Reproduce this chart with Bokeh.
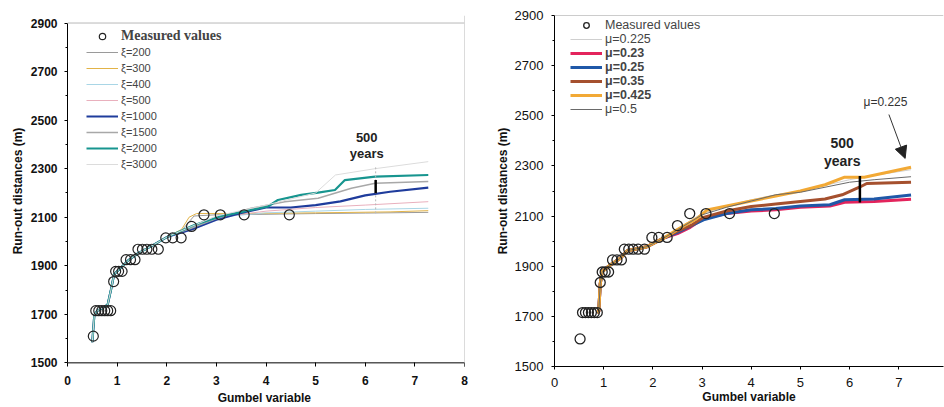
from bokeh.plotting import figure
from bokeh.layouts import row
from bokeh.models import Legend, LegendItem, Label, Arrow, NormalHead, FixedTicker, Span
from bokeh.embed import file_html
from bokeh.resources import INLINE

# ---------------- data ----------------
meas_x = [0.52, 0.57, 0.63, 0.69, 0.75, 0.81, 0.87, 0.93, 0.97, 1.03, 1.10,
          1.18, 1.27, 1.36, 1.42, 1.51, 1.60, 1.70, 1.83, 1.98, 2.12, 2.29,
          2.50, 2.75, 3.08, 3.56, 4.47]
meas_y = [1610, 1715, 1715, 1715, 1715, 1715, 1715, 1835, 1877, 1877, 1877,
          1925, 1925, 1925, 1968, 1968, 1968, 1968, 1968, 2015, 2015, 2015,
          2062, 2110, 2110, 2110, 2110]

gumbel_500 = 6.21

# left chart (xi series) - common start
lb_x = [0.50, 0.54, 0.60, 0.70, 0.81, 0.875, 0.94, 1.04, 1.21, 1.41, 1.68, 2.02]
lb_y = [1585, 1695, 1715, 1725, 1740, 1800, 1865, 1885, 1920, 1950, 1980, 2020]

left_labels = ["ξ=200", "ξ=300", "ξ=400", "ξ=500", "ξ=1000", "ξ=1500", "ξ=2000", "ξ=3000"]
left_tail_x = [
    [2.30, 2.55, 3.00, 4.00, 5.00, 6.00, 7.27],
    [2.30, 2.45, 2.60, 3.50, 5.00, 6.50, 7.27],
    [2.50, 3.00, 4.00, 5.00, 6.00, 7.27],
    [2.50, 3.00, 3.50, 4.00, 5.00, 6.00, 7.27],
    [2.50, 3.00, 3.50, 4.00, 4.50, 5.00, 5.50, 6.00, 6.50, 7.27],
    [2.50, 3.00, 3.70, 4.38, 5.05, 5.72, 6.20, 7.27],
    [2.56, 3.10, 3.37, 4.04, 4.24, 4.71, 5.05, 5.39, 5.59, 6.20, 7.27],
    [2.50, 3.00, 4.00, 5.00, 5.40, 6.20, 7.27],
]
left_tail_y = [
    [2045, 2105, 2110, 2112, 2115, 2117, 2120],
    [2050, 2100, 2115, 2115, 2118, 2122, 2127],
    [2065, 2100, 2118, 2125, 2132, 2137],
    [2060, 2098, 2112, 2125, 2140, 2150, 2164],
    [2050, 2090, 2118, 2140, 2140, 2150, 2165, 2190, 2205, 2222],
    [2055, 2095, 2137, 2164, 2178, 2219, 2240, 2247],
    [2068, 2105, 2116, 2144, 2171, 2192, 2201, 2212, 2253, 2267, 2274],
    [2062, 2105, 2150, 2200, 2274, 2300, 2329],
]
left_colors = ["#9a9a9a", "#e2b347", "#a9d6e6", "#e9b0bd", "#1f3c9c", "#a8a8a8", "#17958f", "#dcdcdc"]
left_widths = [1, 1, 1, 1, 2.2, 1.5, 2.2, 1]

# right chart (mu series) - common start
rb_x = [0.87, 0.90, 0.93, 0.97, 1.14, 1.34, 1.48, 1.88, 2.22]
rb_y = [1713, 1720, 1830, 1879, 1906, 1932, 1962, 1978, 2012]

right_labels = ["μ=0.225", "μ=0.23", "μ=0.25", "μ=0.35", "μ=0.425", "μ=0.5"]
right_tail_x = [
    [2.50, 3.00, 3.50, 4.00, 4.50, 5.00, 5.50, 6.00, 6.50, 7.25],
    [2.50, 2.76, 3.03, 3.50, 4.00, 4.50, 5.00, 5.60, 5.90, 6.50, 7.25],
    [2.50, 2.76, 3.03, 3.50, 4.00, 4.50, 5.00, 5.60, 5.90, 6.50, 7.25],
    [2.50, 2.80, 3.03, 3.50, 4.00, 4.50, 5.00, 5.50, 5.85, 6.20, 6.35, 7.25],
    [2.49, 2.90, 3.10, 3.50, 4.00, 4.50, 5.00, 5.50, 5.90, 6.30, 7.25],
    [2.50, 3.00, 3.50, 4.00, 4.50, 5.00, 5.50, 6.00, 6.50, 7.25],
]
right_tail_y = [
    [2050, 2110, 2140, 2165, 2185, 2200, 2222, 2245, 2262, 2285],
    [2030, 2055, 2090, 2110, 2120, 2125, 2135, 2140, 2155, 2158, 2167],
    [2035, 2060, 2085, 2110, 2125, 2130, 2140, 2145, 2165, 2168, 2184],
    [2040, 2065, 2095, 2120, 2138, 2148, 2158, 2168, 2185, 2215, 2230, 2235],
    [2045, 2091, 2124, 2140, 2160, 2180, 2200, 2225, 2255, 2255, 2295],
    [2045, 2105, 2135, 2160, 2185, 2195, 2215, 2235, 2245, 2257],
]
right_colors = ["#cfcfcf", "#e3245c", "#1f58a8", "#a5502e", "#f2a935", "#6a6a6a"]
right_widths = [1, 3, 3, 3, 3, 1]

y_ticks = [1500, 1700, 1900, 2100, 2300, 2500, 2700, 2900]
y_minor = [1600, 1800, 2000, 2200, 2400, 2600, 2800]

SANS = "Liberation Sans"


def style_axes(p, x_ticks, tick_standoff_x, title_standoff_x, tick_standoff_y, title_standoff_y, xtitle):
    p.xaxis.ticker = FixedTicker(ticks=x_ticks)
    p.yaxis.ticker = FixedTicker(ticks=y_ticks, minor_ticks=y_minor)
    for ax in (p.xaxis[0], p.yaxis[0]):
        ax.axis_line_color = "black"
        ax.axis_line_width = 1
        ax.major_tick_out = 3
        ax.major_tick_in = 0
        ax.minor_tick_out = 2
        ax.minor_tick_in = 0
        ax.major_label_text_font = SANS
        ax.major_label_text_font_style = "bold"
        ax.major_label_text_font_size = "12px"
        ax.major_label_text_color = "#111111"
        ax.axis_label_text_font = SANS
        ax.axis_label_text_font_style = "bold"
        ax.axis_label_text_font_size = "12px"
        ax.axis_label_text_color = "#111111"
    p.xaxis.major_label_standoff = tick_standoff_x
    p.xaxis.axis_label_standoff = title_standoff_x
    p.yaxis.major_label_standoff = tick_standoff_y
    p.yaxis.axis_label_standoff = title_standoff_y
    p.xaxis.axis_label = xtitle
    p.yaxis.axis_label = "Run-out distances (m)"
    p.xgrid.visible = False
    p.ygrid.visible = False


# ---------------- left figure ----------------
pl = figure(width=470, height=407, x_range=(0, 8), y_range=(1485, 2931),
            output_backend="svg", toolbar_location=None,
            min_border_left=67, min_border_right=6, min_border_top=15, min_border_bottom=40)
pl.outline_line_color = None
style_axes(pl, [0, 1, 2, 3, 4, 5, 6, 7, 8], 9, 3, 7, 3, "Gumbel  variable")
# x axis line drawn at y=1500 (the frame extends a little below it)
pl.xaxis.axis_line_color = None
pl.xaxis.major_tick_out = 0
pl.xaxis.major_tick_in = 4
pl.xaxis.minor_tick_out = 0
pl.xaxis.minor_tick_in = 0
pl.yaxis.bounds = (1500, 2900)
pl.add_layout(Span(location=1500, dimension="width", line_color="black", line_width=1))
pl.add_layout(Span(location=2900, dimension="width", line_color="#b8b8b8", line_width=1))
pl.add_layout(Span(location=8, dimension="height", line_color="#b8b8b8", line_width=1))

l_items = []
for lab, tx, ty, c, w in zip(left_labels, left_tail_x, left_tail_y, left_colors, left_widths):
    r = pl.line(lb_x + tx, lb_y + ty, line_color=c, line_width=w)
    l_items.append(LegendItem(label=lab, renderers=[r]))

pl.segment(x0=[gumbel_500], y0=[2116], x1=[gumbel_500], y1=[2308], line_color="#b8b8b8", line_width=1, line_dash="2 2")
pl.segment(x0=[gumbel_500], y0=[2199], x1=[gumbel_500], y1=[2253], line_color="black", line_width=2.5)

rm = pl.scatter(meas_x, meas_y, marker="circle", size=10, fill_color=None,
                line_color="#222222", line_width=1.2)

pl.add_layout(Label(x=6.03, y=2430, text="500", text_align="center", text_baseline="middle",
                    text_font=SANS, text_font_style="bold", text_font_size="13px", text_color="#222222"))
pl.add_layout(Label(x=6.03, y=2362, text="years", text_align="center", text_baseline="middle",
                    text_font=SANS, text_font_style="bold", text_font_size="13px", text_color="#222222"))

leg1 = Legend(items=[LegendItem(label="Measured values", renderers=[rm])], location=(19, 322),
              label_text_font="Liberation Serif", label_text_font_style="bold", label_text_font_size="14px",
              glyph_width=32, glyph_height=16, label_height=16, spacing=0, padding=0, margin=0,
              label_standoff=3, border_line_color=None, background_fill_alpha=0)
leg2 = Legend(items=l_items, location=(19, 194),
              label_text_font=SANS, label_text_font_size="11px",
              glyph_width=32, glyph_height=16, label_height=16, spacing=0, padding=0, margin=0,
              label_standoff=3, border_line_color=None, background_fill_alpha=0)
pl.add_layout(leg1)
pl.add_layout(leg2)

# ---------------- right figure ----------------
pr = figure(width=474, height=407, x_range=(0, 7.91), y_range=(1500, 2900),
            output_backend="svg", toolbar_location=None,
            min_border_left=84, min_border_right=1, min_border_top=15, min_border_bottom=40)
pr.outline_line_color = None
style_axes(pr, [0, 1, 2, 3, 4, 5, 6, 7], 8, 0, 8, 2, "Gumbel variable")
for ax in (pr.xaxis[0], pr.yaxis[0]):
    ax.major_label_text_font_style = "normal"
    ax.major_label_text_font_size = "13px"
pr.add_layout(Span(location=2900, dimension="width", line_color="#9a9a9a", line_width=1))

r_rend = []
for tx, ty, c, w in zip(right_tail_x, right_tail_y, right_colors, right_widths):
    r = pr.line(rb_x + tx, rb_y + ty, line_color=c, line_width=w)
    r_rend.append(r)

pr.segment(x0=[gumbel_500], y0=[2154], x1=[gumbel_500], y1=[2260], line_color="black", line_width=2.5)

rm2 = pr.scatter(meas_x, meas_y, marker="circle", size=10, fill_color=None,
                 line_color="#222222", line_width=1.3)

pr.add_layout(Label(x=5.85, y=2392, text="500", text_align="center", text_baseline="middle",
                    text_font=SANS, text_font_style="bold", text_font_size="14px", text_color="#222222"))
pr.add_layout(Label(x=5.85, y=2318, text="years", text_align="center", text_baseline="middle",
                    text_font=SANS, text_font_style="bold", text_font_size="14px", text_color="#222222"))
pr.add_layout(Label(x=6.73, y=2556, text="μ=0.225", text_align="center", text_baseline="middle",
                    text_font=SANS, text_font_size="12px", text_color="#333333"))
pr.add_layout(Arrow(end=NormalHead(size=12, fill_color="#222222", line_color="#222222"),
                    x_start=6.8, y_start=2505, x_end=7.13, y_end=2330,
                    line_color="#333333", line_width=1))

legA = Legend(items=[LegendItem(label="Measured values", renderers=[rm2]),
                     LegendItem(label=right_labels[0], renderers=[r_rend[0]])],
              location=(16, 320))
legB = Legend(items=[LegendItem(label=right_labels[i], renderers=[r_rend[i]]) for i in range(1, 5)],
              location=(16, 264), label_text_font_style="bold")
legC = Legend(items=[LegendItem(label=right_labels[5], renderers=[r_rend[5]])], location=(16, 250))
for lg in (legA, legB, legC):
    lg.label_text_font = SANS
    lg.label_text_font_size = "12.5px"
    lg.glyph_width = 32
    lg.glyph_height = 14
    lg.label_height = 14
    lg.spacing = 0
    lg.padding = 0
    lg.margin = 0
    lg.label_standoff = 3
    lg.border_line_color = None
    lg.background_fill_alpha = 0
    pr.add_layout(lg)

layout = row(pl, pr)
open("out.html", "w").write(file_html(layout, INLINE))
